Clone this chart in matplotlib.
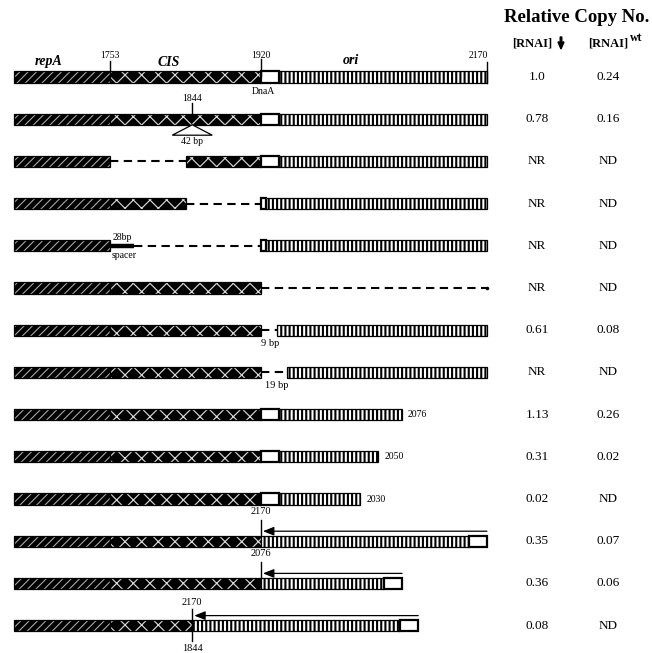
import matplotlib
matplotlib.use("Agg")
import matplotlib.pyplot as plt
from matplotlib.patches import Rectangle, Polygon, FancyArrowPatch, FancyArrow, ArrowStyle
import matplotlib.transforms as mtransforms

plt.rcParams['font.family'] = ['Liberation Serif', 'DejaVu Serif']
plt.rcParams['hatch.linewidth'] = 1.0

# ---------------------------------------------------------------- data
# map coordinates (bp)
REPA_START = 1647
CIS_START = 1753
ORI_START = 1920
DNAA_END = 1940
ORI_END = 2170

# segments of every construct: (kind, start bp, end bp)
row_wt = [('repA', 1647, 1753), ('cis', 1753, 1920), ('dnaa', 1920, 1940), ('ori', 1940, 2170)]
row_d42 = [('repA', 1647, 1753), ('cis', 1753, 1920), ('dnaa', 1920, 1940), ('ori', 1940, 2170)]
row_dcis5 = [('repA', 1647, 1753), ('gap', 1753, 1837), ('cis', 1837, 1920), ('dnaa', 1920, 1940), ('ori', 1940, 2170)]
row_dcis3 = [('repA', 1647, 1753), ('cis', 1753, 1837), ('gap', 1837, 1920), ('dnaa', 1920, 1926), ('ori', 1926, 2170)]
row_spacer = [('repA', 1647, 1753), ('spacer', 1753, 1779), ('gap', 1779, 1920), ('dnaa', 1920, 1926), ('ori', 1926, 2170)]
row_dori = [('repA', 1647, 1753), ('cis', 1753, 1920), ('gap', 1920, 2170)]
row_d9 = [('repA', 1647, 1753), ('cis', 1753, 1920), ('gap', 1920, 1938), ('ori', 1938, 2170)]
row_d19 = [('repA', 1647, 1753), ('cis', 1753, 1920), ('gap', 1920, 1949), ('ori', 1949, 2170)]
row_2076 = [('repA', 1647, 1753), ('cis', 1753, 1920), ('dnaa', 1920, 1940), ('ori', 1940, 2076)]
row_2050 = [('repA', 1647, 1753), ('cis', 1753, 1920), ('dnaa', 1920, 1940), ('ori', 1940, 2050)]
row_2030 = [('repA', 1647, 1753), ('cis', 1753, 1920), ('dnaa', 1920, 1940), ('ori', 1940, 2030)]
row_inv2170 = [('repA', 1647, 1753), ('cis', 1753, 1920)]
row_inv2076 = [('repA', 1647, 1753), ('cis', 1753, 1920)]
row_inv1844 = [('repA', 1647, 1753), ('cis', 1753, 1844)]

constructs = [row_wt, row_d42, row_dcis5, row_dcis3, row_spacer, row_dori, row_d9,
              row_d19, row_2076, row_2050, row_2030, row_inv2170, row_inv2076, row_inv1844]

# inverted ori fragments: (row, insertion bp, fragment high end bp)
inverted_rows = [11, 12, 13]
inverted_insert = [1920, 1920, 1844]
inverted_high = [2170, 2076, 2170]

# 3' truncations labelled at the end of the bar
trunc_rows = [8, 9, 10]
trunc_ends = [2076, 2050, 2030]

# small gap labels
gap_rows = [6, 7]
gap_labels = ['9 bp', '19 bp']
gap_label_bp = [1930, 1937]

rnai_down = ['1.0', '0.78', 'NR', 'NR', 'NR', 'NR', '0.61', 'NR', '1.13', '0.31', '0.02', '0.35', '0.36', '0.08']
rnai_wt = ['0.24', '0.16', 'ND', 'ND', 'ND', 'ND', '0.08', 'ND', '0.26', '0.02', 'ND', '0.07', '0.06', 'ND']

# ---------------------------------------------------------------- layout
W, H = 652, 653
PX_PER_BP = 0.904
ROW_PX = 42.2
ROW0_PX = 77

fig = plt.figure(figsize=(W / 100, H / 100), dpi=100)
ax = fig.add_axes([0, 0, 1, 1])
x_left = CIS_START - 110 / PX_PER_BP
ax.set_xlim(x_left, x_left + W / PX_PER_BP)
ax.set_ylim((H - ROW0_PX) / ROW_PX, -ROW0_PX / ROW_PX)
ax.axis('off')


def dpx(p):
    """vertical offset in pixels -> row units"""
    return p / ROW_PX


def bpx(p):
    """horizontal offset in pixels -> bp"""
    return p / PX_PER_BP


HALF = dpx(5.6)
SMALL = 7


def hatched(a, b, y, face, hcolor, hatch, hlw):
    ax.add_patch(Rectangle((a, y - HALF), b - a, 2 * HALF, facecolor=face, edgecolor='none', lw=0))
    with plt.rc_context({'hatch.linewidth': hlw}):
        p = Rectangle((a, y - HALF), b - a, 2 * HALF, facecolor='none', edgecolor=hcolor, hatch=hatch, lw=0)
        if hasattr(p, 'set_hatch_linewidth'):
            p.set_hatch_linewidth(hlw)
    ax.add_patch(p)
    ax.add_patch(Rectangle((a, y - HALF), b - a, 2 * HALF, facecolor='none', edgecolor='black', lw=0.9))


def draw_segment(kind, a, b, y):
    if kind == 'repA':
        hatched(a, b, y, 'black', '#b0b0b0', '////', 0.75)
    elif kind == 'cis':
        hatched(a, b, y, 'black', '#d8d8d8', 'xx', 0.85)
    elif kind == 'ori':
        hatched(a, b, y, 'white', 'black', '||||', 1.5)
    elif kind == 'dnaa':
        ax.add_patch(Rectangle((a, y - HALF), b - a, 2 * HALF, facecolor='white', edgecolor='black', lw=1.6))
    elif kind == 'gap':
        ax.plot([a, b], [y, y], color='black', lw=1.5, ls=(0, (4, 2.6)), solid_capstyle='butt')
    elif kind == 'spacer':
        ax.plot([a, b], [y, y], color='black', lw=3.2, solid_capstyle='butt')


for r, segs in enumerate(constructs):
    for kind, a, b in segs:
        draw_segment(kind, a, b, r)

# inverted ori fragments with orientation arrow
for r, ins, hi in zip(inverted_rows, inverted_insert, inverted_high):
    length = hi - ORI_START
    end = ins + length
    dn = DNAA_END - ORI_START
    draw_segment('ori', ins, end - dn, r)
    draw_segment('dnaa', end - dn, end, r)
    ya = r - dpx(10)
    ax.add_patch(FancyArrowPatch((end, ya), (ins + bpx(2), ya),
                                 arrowstyle=ArrowStyle('-|>', head_length=0.55, head_width=0.22),
                                 mutation_scale=12, color='black', lw=0.9,
                                 shrinkA=0, shrinkB=0))
    if ins == ORI_START:
        ax.plot([ins, ins], [r - HALF, r - dpx(21)], color='black', lw=1)
        ax.text(ins, r - dpx(30), str(hi), ha='center', va='center', fontsize=SMALL + 0.5)
    else:
        ax.plot([ins, ins], [r - dpx(17), r + dpx(15)], color='black', lw=1)
        ax.text(ins, r - dpx(23), str(hi), ha='center', va='center', fontsize=SMALL + 0.5)
        ax.text(ins, r + dpx(23), str(ins), ha='center', va='center', fontsize=SMALL + 0.5)

# feature labels above the wild-type map
ax.text(REPA_START + bpx(34), -dpx(15), 'repA', ha='center', va='center',
        fontsize=10, fontweight='bold', fontstyle='italic')
ax.text(CIS_START + bpx(59), -dpx(15), 'CIS', ha='center', va='center',
        fontsize=10, fontweight='bold', fontstyle='italic')
ax.text(ORI_START + bpx(90), -dpx(16), 'ori', ha='center', va='center',
        fontsize=10, fontweight='bold', fontstyle='italic')
for pos, top in [(CIS_START, 16), (ORI_START, 18)]:
    ax.plot([pos, pos], [-HALF + (dpx(5) if pos == ORI_START else 0), -dpx(top)], color='black', lw=1)
    ax.text(pos, -dpx(22), str(pos), ha='center', va='center', fontsize=SMALL)
ax.plot([ORI_END, ORI_END], [HALF, -dpx(15)], color='black', lw=1)
ax.text(ORI_END + bpx(1), -dpx(21), str(ORI_END), ha='right', va='center', fontsize=SMALL)
ax.text(ORI_START + bpx(2), dpx(14), 'DnaA', ha='center', va='center', fontsize=SMALL)

# 42 bp deletion marker
d = 1844
ax.plot([d, d], [1 - HALF, 1 - dpx(16)], color='black', lw=1)
ax.text(d, 1 - dpx(21), str(d), ha='center', va='center', fontsize=SMALL)
ax.add_patch(Polygon([(d, 1 + HALF), (d - bpx(20), 1 + dpx(16)), (d + bpx(20), 1 + dpx(16))],
                     closed=True, facecolor='white', edgecolor='black', lw=0.9))
ax.text(d, 1 + dpx(22), '42 bp', ha='center', va='center', fontsize=SMALL)

# spacer labels
ax.text(CIS_START + bpx(12), 4 - dpx(8), '28bp', ha='center', va='center', fontsize=SMALL)
ax.text(CIS_START + bpx(14), 4 + dpx(10), 'spacer', ha='center', va='center', fontsize=SMALL)

# end of ori deletion construct
ax.plot([ORI_END], [5], marker='o', ms=1.5, color='black')

for r, lab, x in zip(gap_rows, gap_labels, gap_label_bp):
    ax.text(x, r + dpx(13), lab, ha='center', va='center', fontsize=SMALL + 0.5)

for r, e in zip(trunc_rows, trunc_ends):
    ax.text(e + bpx(6), r, str(e), ha='left', va='center', fontsize=SMALL)

# copy number columns
tr = mtransforms.blended_transform_factory(fig.transFigure, ax.transData)
for r, (v1, v2) in enumerate(zip(rnai_down, rnai_wt)):
    ax.text(537 / W, r, v1, transform=tr, ha='center', va='center', fontsize=9.5)
    ax.text(608 / W, r, v2, transform=tr, ha='center', va='center', fontsize=9.5)


def fpx(x, y):
    return x / W, 1 - y / H


fig.text(*fpx(577, 17), 'Relative Copy No.', ha='center', va='center', fontsize=13.5, fontweight='bold')
fig.text(*fpx(512, 44), '[RNAI]', ha='left', va='center', fontsize=9, fontweight='bold')
fig.text(*fpx(588, 44), '[RNAI]', ha='left', va='center', fontsize=9, fontweight='bold')
fig.text(*fpx(630, 38), 'wt', ha='left', va='center', fontsize=8.5, fontweight='bold')
# bold down arrow after the first column heading
fig.patches.append(FancyArrow(561, H - 37, 0, -12, width=1.6, head_width=6, head_length=7,
                              length_includes_head=True, color='black',
                              transform=mtransforms.IdentityTransform(), figure=fig))

fig.savefig('out.png', dpi=100, facecolor='white')
